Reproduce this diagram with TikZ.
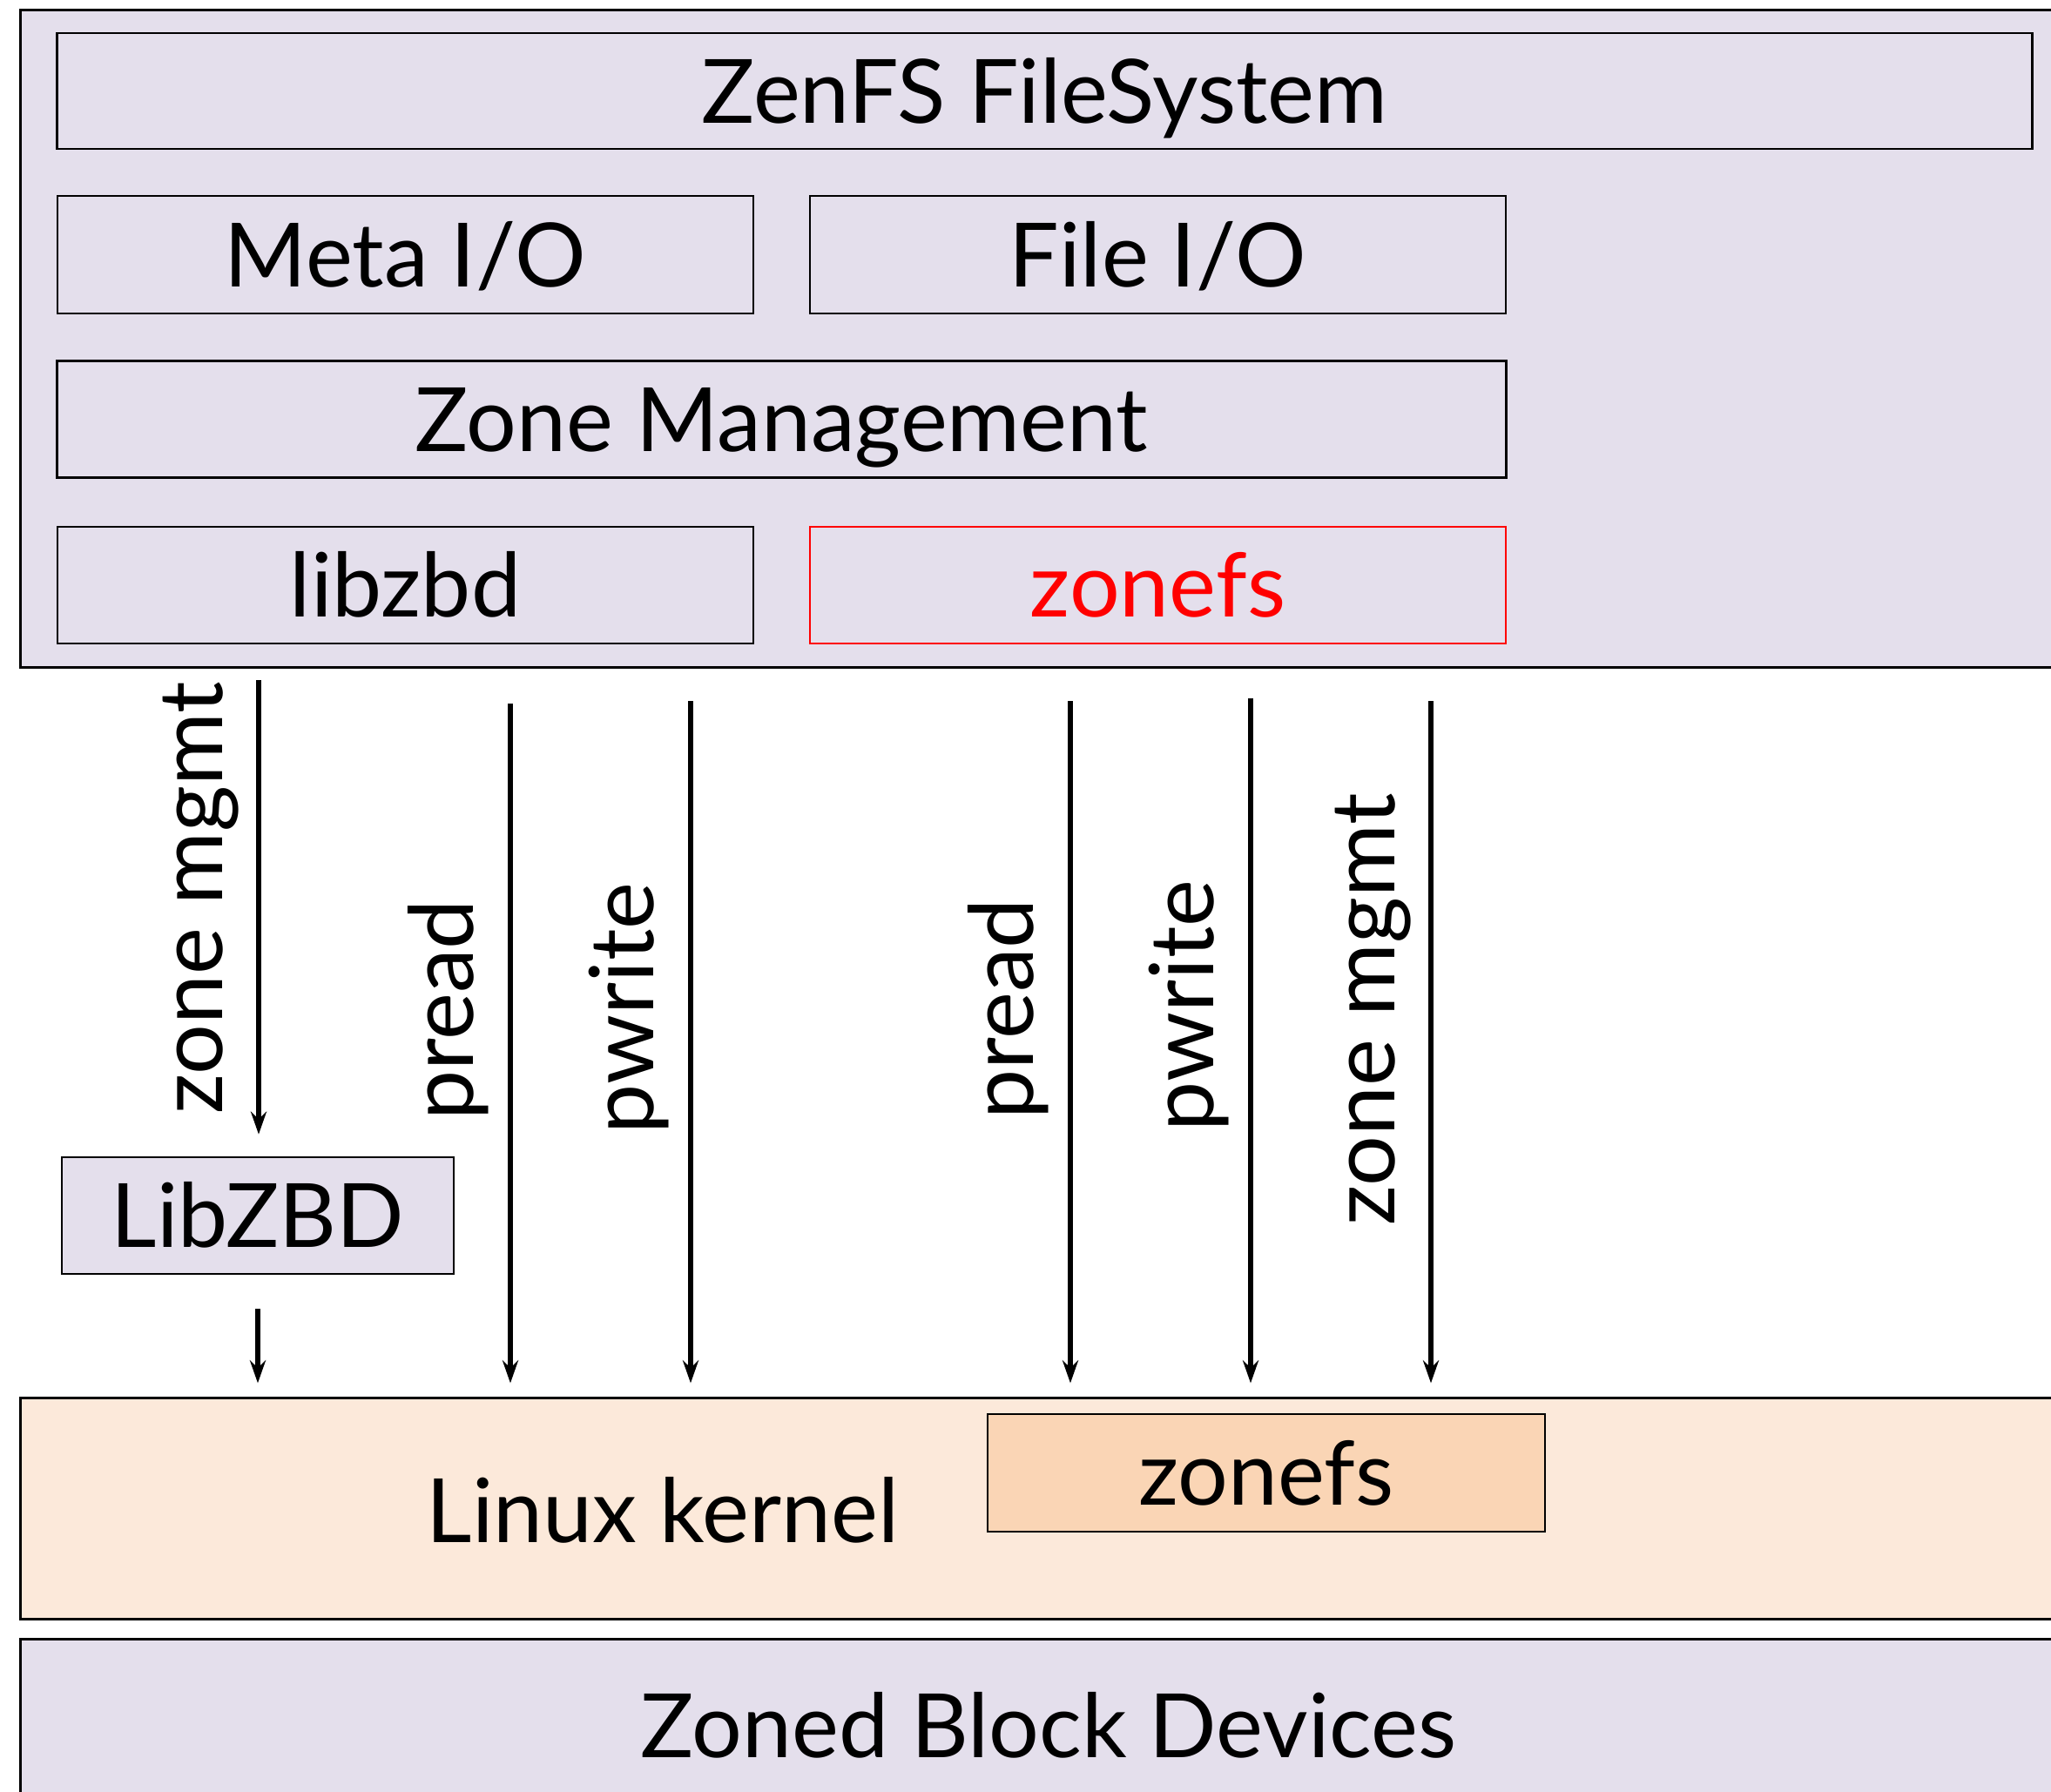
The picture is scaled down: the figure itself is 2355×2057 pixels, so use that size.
\documentclass[tikz,border=0pt]{standalone}
\usepackage{fontspec}
\setmainfont{Lato}
\usetikzlibrary{arrows.meta,positioning,calc}
\definecolor{lav}{HTML}{E4DFEC}
\definecolor{peach}{HTML}{FCE9DA}
\definecolor{peachdk}{HTML}{FAD5B5}
\definecolor{hot}{HTML}{FF0000}
\newcommand{\lbfont}{\fontsize{29}{35}\selectfont}

\begin{document}
\begin{tikzpicture}[
  x=0.01cm, y=-0.01cm,
  >={Stealth[length=0.26cm,width=0.18cm]},
  layer/.style={draw=black, fill=lav, line width=0.85pt, inner sep=0pt, font=\lbfont, text height=0.73cm, text depth=0pt},
  blk/.style={draw=black, fill=lav, line width=0.7pt, inner sep=0pt, minimum height=1.34cm, font=\lbfont, text height=0.73cm, text depth=0pt},
  txt/.style={inner sep=0pt, font=\lbfont, text height=0.73cm, text depth=0pt},
  lbl/.style={rotate=90, inner sep=0pt, anchor=base, font=\lbfont},
  arr/.style={->, line width=1.8pt},
]
\useasboundingbox (0,0) rectangle (2355,2057);

\node[layer, minimum width=23.46cm, minimum height=7.54cm] (zenfs) at (1197,389) {};
\node[blk, minimum width=22.67cm, minimum height=1.33cm] (fs) at (1199.5,104.5) {ZenFS FileSystem};
\node[blk, minimum width=7.99cm, minimum height=1.35cm] (meta) at (465.5,292.5) {Meta I/O};
\node[blk, minimum width=7.99cm, minimum height=1.35cm] (fileio) at (1329.5,292.5) {File I/O};
\node[blk, minimum width=16.63cm] (zmgmt) at (897.5,481.5) {Zone Management};
\node[blk, minimum width=7.99cm] (libzbd) at (465.5,672) {libzbd};
\node[blk, draw=hot, text=hot, minimum width=7.99cm] (zonefsu) at (1329.5,672) {zonefs};

\node[blk, minimum width=4.50cm] (zlib) at (296,1396) {LibZBD};

\node[layer, fill=peach, minimum width=23.46cm, minimum height=2.53cm] (kernel) at (1197,1732.5) {};
\node[txt] (klbl) at (761,1735) {Linux kernel};
\node[blk, fill=peachdk, minimum width=6.40cm, minimum height=1.35cm] (kzonefs) at (1454,1691.5) {zonefs};

\node[layer, minimum width=23.60cm, minimum height=1.97cm] (zbd) at (1204,1981.5) {Zoned Block Devices};

\node[lbl] (zm1) at (255,1031) {zone mgmt};
\node[lbl] (rd1) at (543,1160) {pread};
\node[lbl] (wr1) at (750,1158) {pwrite};
\node[lbl] (rd2) at (1186,1159) {pread};
\node[lbl] (wr2) at (1393,1155) {pwrite};
\node[lbl] (zm2) at (1601,1159) {zone mgmt};

\coordinate (s1) at (297,781);
\coordinate (s2) at (586,808);
\coordinate (s3) at (793,805);
\coordinate (s4) at (1229,805);
\coordinate (s5) at (1436,802);
\coordinate (s6) at (1643,805);

\draw[arr, shorten >=0.25cm] (s1) -- (s1 |- zlib.north);
\draw[arr, shorten <=0.39cm, shorten >=0.16cm] (zlib.south) -- (zlib.south |- kernel.north);
\draw[arr, shorten >=0.16cm] (s2) -- (s2 |- kernel.north);
\draw[arr, shorten >=0.16cm] (s3) -- (s3 |- kernel.north);
\draw[arr, shorten >=0.16cm] (s4) -- (s4 |- kernel.north);
\draw[arr, shorten >=0.16cm] (s5) -- (s5 |- kernel.north);
\draw[arr, shorten >=0.16cm] (s6) -- (s6 |- kernel.north);

\end{tikzpicture}
\end{document}
